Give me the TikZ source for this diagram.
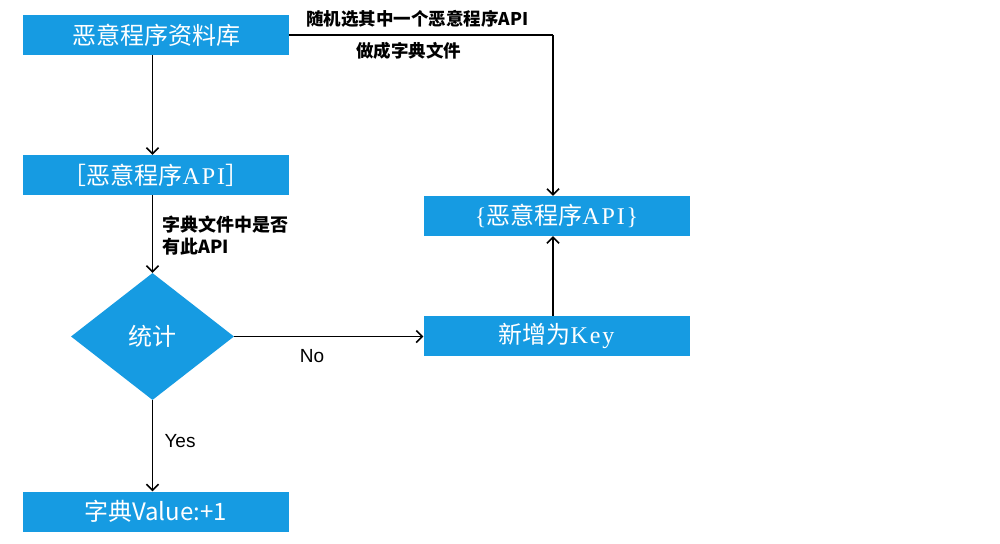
\documentclass[tikz,border=0pt]{standalone}
\usepackage{fontspec}
\setmainfont{Liberation Sans}
\newfontfamily\cjk{Noto Sans CJK SC}
\newfontfamily\latinserif{Liberation Serif}
\usetikzlibrary{shapes.geometric,arrows.meta}
\definecolor{flowblue}{RGB}{22,155,226}
\begin{document}
\begin{tikzpicture}[x=1pt,y=-1pt,
  box/.style={rectangle,fill=flowblue,text=white,minimum width=266pt,minimum height=40pt,
    inner sep=0pt,font=\fontsize{24}{28}\selectfont\cjk},
  decide/.style={diamond,fill=flowblue,text=white,minimum width=163pt,minimum height=127pt,
    inner sep=0pt,font=\fontsize{24}{28}\selectfont\cjk},
  flow/.style={line width=1.6pt,-{Straight Barb[length=6pt,width=12pt,line width=1.5pt]}},
  link/.style={line width=1.6pt},
  note/.style={font=\fontsize{17.5}{22}\selectfont\cjk\bfseries,text=black,inner sep=0pt},
  answer/.style={font=\fontsize{19}{22}\selectfont,text=black,inner sep=0pt}]
\useasboundingbox (0,0) rectangle (1000,543);
\fill[white] (0,0) rectangle (1000,543);

\node[box] (lib) at (156,35) {恶意程序资料库};
\node[box] (api) at (156,175) {［恶意程序{\latinserif\addfontfeatures{LetterSpace=8}API}］};
\node[decide] (count) at (152.5,336.5) {统计};
\node[box] (val) at (155.5,511.5) {字典Value:+1};
\node[box] (dict) at (556.5,216) {{\latinserif\{}恶意程序{\latinserif\addfontfeatures{LetterSpace=8}API\}}};
\node[box] (key) at (556.5,336) {新增为{\latinserif\addfontfeatures{LetterSpace=8}Key}};

\coordinate (corner) at (553,35);

\draw[flow] (lib.south -| count.north) -- (api.north -| count.north);
\draw[flow] (api.south -| count.north) -- (count.north);
\draw[flow] (count.south) -- (val.north -| count.south);
\draw[flow] (count.east) -- (key.west |- count.east);
\draw[link] (lib.east) -- (corner);
\draw[flow] (corner) -- (dict.north -| corner);
\draw[flow] (key.north -| corner) -- (dict.south -| corner);

\node[note,anchor=west] (pick) at (306,19) {随机选其中一个恶意程序API};
\node[note,anchor=west] (make) at (356,51) {做成字典文件};
\node[note,anchor=west,align=left,font=\fontsize{18}{22}\selectfont\cjk\bfseries] (ask) at (162,236) {字典文件中是否\\有此API};
\node[answer] (no) at (312,356) {No};
\node[answer] (yes) at (180,441) {Yes};
\end{tikzpicture}
\end{document}
